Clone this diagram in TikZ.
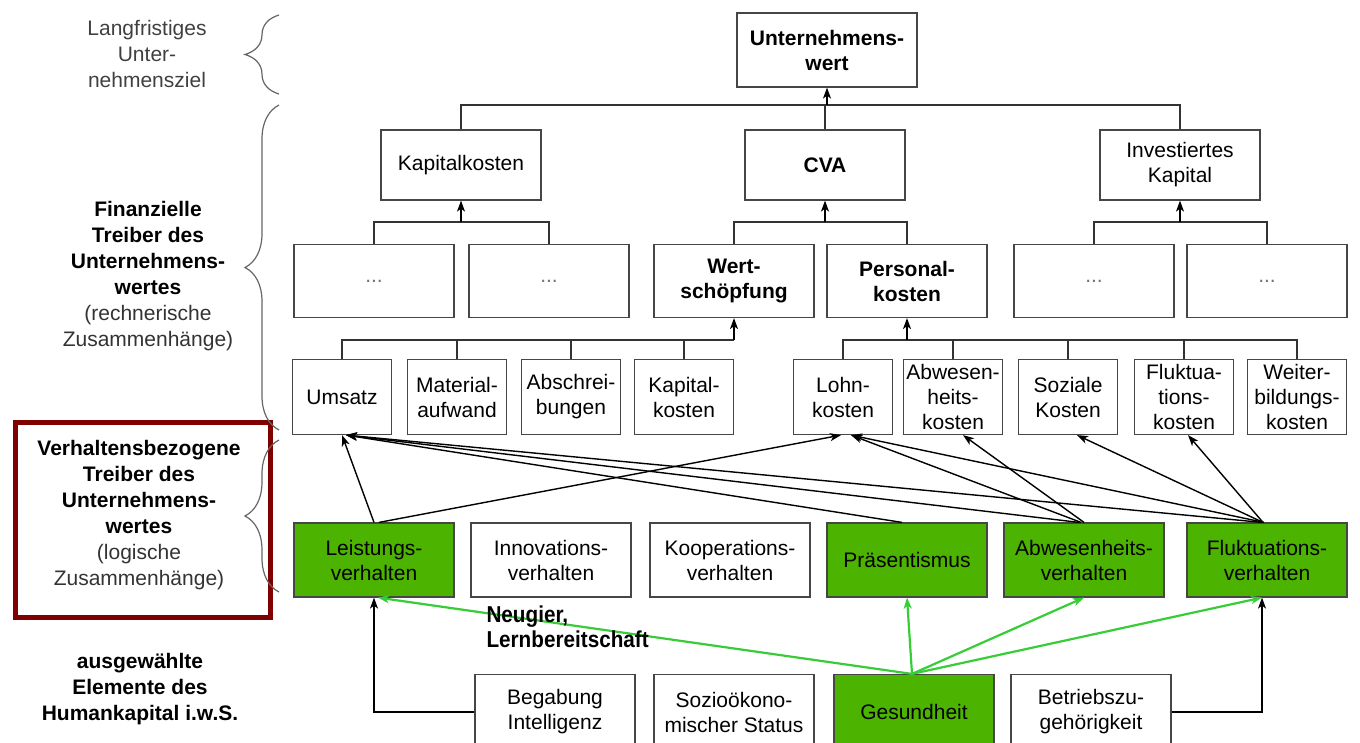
\documentclass[tikz,border=0pt]{standalone}
\usepackage{fontspec}
\setmainfont{Liberation Sans}
\newfontfamily\schmalfont[FakeStretch=0.9]{Liberation Sans}
\usetikzlibrary{arrows.meta,positioning,decorations.pathreplacing}
\definecolor{gruen}{RGB}{76,180,0}
\definecolor{hellgruen}{RGB}{55,205,55}
\definecolor{dunkelrot}{RGB}{128,0,0}
\definecolor{rahmen}{RGB}{70,70,70}
\tikzset{
    %Define standard arrow tip
    >={Stealth[length=11pt,width=8pt,inset=3pt]},
    %Define style for boxes
    kasten/.style={
           rectangle,
           draw=rahmen,
           line width=1.2pt,
           fill=white,
           minimum width=160pt,
           minimum height=74pt,
           inner sep=1pt,
           align=center,
           font=\fontsize{21}{25}\selectfont},
    schmal/.style={kasten, minimum width=99pt, minimum height=75pt},
    gkasten/.style={kasten, fill=gruen},
    fett/.style={font=\fontsize{21}{25}\selectfont\bfseries},
    punkte/.style={kasten, text=black!55},
    % Define text style for the left column
    seite/.style={align=center, font=\fontsize{21}{26}\selectfont},
    % Define arrow styles
    pfeil/.style={->, line width=1.4pt, black},
    gpfeil/.style={->, line width=2.2pt, hellgruen},
    linie/.style={line width=1.3pt, black!80},
    klammer/.style={decorate, decoration={brace, amplitude=34pt}, line width=1.2pt, black!60}
}
\begin{document}
\begin{tikzpicture}[x=1pt, y=-1pt]
  \useasboundingbox (0,0) rectangle (1360,742);
  % top
  \node[kasten, fett, minimum width=180pt] (uwert) at (827,50) {Unternehmens-\\wert};
  % second row
  \node[kasten, minimum height=70pt] (kapk) at (461,165) {Kapitalkosten};
  \node[kasten, fett, minimum height=70pt] (cva) at (825,165) {CVA};
  \node[kasten, minimum height=70pt] (invk) at (1180,165) {Investiertes\\Kapital};
  % third row
  \node[punkte, minimum height=73pt] (p1) at (374,281) {...};
  \node[punkte, minimum height=73pt] (p2) at (549,281) {...};
  \node[kasten, fett, minimum height=73pt] (wert) at (734,281) {Wert-\\schöpfung};
  \node[kasten, fett, minimum height=73pt] (pers) at (907,281) {Personal-\\kosten};
  \node[punkte, minimum height=73pt] (p3) at (1094,281) {...};
  \node[punkte, minimum height=73pt] (p4) at (1267,281) {...};
  % fourth row
  \node[schmal] (umsatz) at (342,397) {Umsatz};
  \node[schmal] (mat) at (457,397) {Material-\\aufwand};
  \node[schmal] (abschr) at (571,397) {Abschrei-\\bungen};
  \node[schmal] (kapk2) at (684,397) {Kapital-\\kosten};
  \node[schmal] (lohn) at (843,397) {Lohn-\\kosten};
  \node[schmal] (abwk) at (953,397) {Abwesen-\\heits-\\kosten};
  \node[schmal] (soz) at (1068,397) {Soziale\\Kosten};
  \node[schmal] (flk) at (1184,397) {Fluktua-\\tions-\\kosten};
  \node[schmal] (weit) at (1297,397) {Weiter-\\bildungs-\\kosten};
  % behaviour
  \node[gkasten] (leist) at (374,560) {Leistungs-\\verhalten};
  \node[kasten] (inno) at (551,560) {Innovations-\\verhalten};
  \node[kasten] (koop) at (730,560) {Kooperations-\\verhalten};
  \node[gkasten] (praes) at (907,560) {Präsentismus};
  \node[gkasten] (abwv) at (1084,560) {Abwesenheits-\\verhalten};
  \node[gkasten] (flv) at (1267,560) {Fluktuations-\\verhalten};
  % human capital
  \node[kasten, minimum height=75pt] (begab) at (555,712) {Begabung\\Intelligenz};
  \node[kasten, minimum height=75pt] (sozio) at (734,712) {Sozioökono-\\mischer Status};
  \node[gkasten, minimum height=75pt] (gesund) at (914,712) {Gesundheit};
  \node[kasten, minimum height=75pt] (betrieb) at (1091,712) {Betriebszu-\\gehörigkeit};

  % tree lines
  \draw[linie] (kapk.north) |- (invk.north |- 0,105) -- (invk.north);
  \draw[linie] (cva.north) -- (cva.north |- 0,105);
  \draw[pfeil] (uwert.south |- 0,105) -- (uwert.south);
  \draw[linie] (p1.north) |- (p2.north |- 0,222) -- (p2.north);
  \draw[pfeil] (kapk.south |- 0,222) -- (kapk.south);
  \draw[linie] (wert.north) |- (pers.north |- 0,222) -- (pers.north);
  \draw[pfeil] (cva.south |- 0,222) -- (cva.south);
  \draw[linie] (p3.north) |- (p4.north |- 0,222) -- (p4.north);
  \draw[pfeil] (invk.south |- 0,222) -- (invk.south);
  \draw[linie] (umsatz.north) |- (wert.south |- 0,340);
  \foreach \n in {mat,abschr,kapk2}
    \draw[linie] (\n.north) -- (\n.north |- 0,340);
  \draw[pfeil] (wert.south |- 0,340) -- (wert.south);
  \draw[linie] (lohn.north) |- (weit.north |- 0,340) -- (weit.north);
  \foreach \n in {abwk,soz,flk}
    \draw[linie] (\n.north) -- (\n.north |- 0,340);
  \draw[pfeil] (pers.south |- 0,340) -- (pers.south);

  % behaviour -> costs
  \draw[pfeil] (leist.north) -- (umsatz.south);
  \draw[pfeil] ([xshift=5pt]leist.north) -- ([xshift=-2pt]lohn.south);
  \foreach \q in {praes,abwv,flv}
    \draw[pfeil] ([xshift=-5pt]\q.north) -- ([xshift=4pt]umsatz.south);
  \foreach \q in {abwv,flv}
    \draw[pfeil] ([xshift=-3pt]\q.north) -- ([xshift=8pt]lohn.south);
  \draw[pfeil] (abwv.north) -- ([xshift=10pt]abwk.south);
  \draw[pfeil] ([xshift=-4pt]flv.north) -- ([xshift=9pt]soz.south);
  \draw[pfeil] ([xshift=-4pt]flv.north) -- ([xshift=4pt]flk.south);

  % human capital -> behaviour
  \draw[pfeil] (begab.west) -| (leist.south);
  \draw[pfeil] (betrieb.east) -| ([xshift=-5pt]flv.south);
  \foreach \q in {praes,abwv}
    \draw[gpfeil] ([xshift=-2pt]gesund.north) -- (\q.south);
  \draw[gpfeil] ([xshift=-2pt]gesund.north) -- ([xshift=4pt]leist.south);
  \draw[gpfeil] ([xshift=-2pt]gesund.north) -- ([xshift=-5pt]flv.south);
  \node[anchor=west, align=left, font=\schmalfont\fontsize{23}{25}\selectfont\bfseries] (neugier) at (483,627) {Neugier,\\Lernbereitschaft};

  % left column
  \node[seite, text=black!75] (ziel) at (147,54) {Langfristiges\\Unter-\\nehmensziel};
  \node[seite] (fin) at (148,276) {\textbf{Finanzielle}\\\textbf{Treiber des}\\\textbf{Unternehmens-}\\\textbf{wertes}\\{\color{black!80}(rechnerische}\\{\color{black!80}Zusammenhänge)}};
  \node[draw=dunkelrot, line width=5pt, minimum width=255pt, minimum height=195pt, inner sep=0pt] (rot) at (143,520) {};
  \node[seite] (verh) at (139,515) {\textbf{Verhaltensbezogene}\\\textbf{Treiber des}\\\textbf{Unternehmens-}\\\textbf{wertes}\\{\color{black!80}(logische}\\{\color{black!80}Zusammenhänge)}};
  \node[seite, font=\fontsize{21}{26}\selectfont\bfseries] (human) at (140,689) {ausgewählte\\Elemente des\\Humankapital i.w.S.};
  \draw[klammer] (279,94) -- (279,15);
  \draw[klammer] (279,430) -- (279,105);
  \draw[klammer] (279,592) -- (279,440);
\end{tikzpicture}
\end{document}
